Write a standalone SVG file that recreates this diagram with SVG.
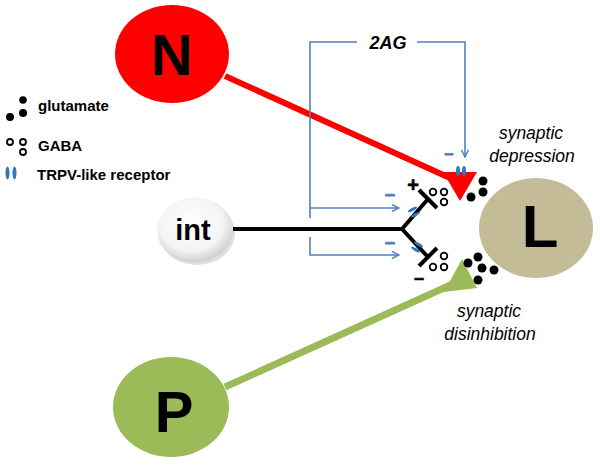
<svg xmlns="http://www.w3.org/2000/svg" width="600" height="465" viewBox="0 0 600 465">
<style>
.lbl{font-family:"Liberation Sans",Arial,sans-serif;font-weight:bold;fill:#000}
.leg{font-family:"Liberation Sans",Arial,sans-serif;font-weight:bold;font-size:15px;fill:#000}
.it{font-family:"Liberation Sans",Arial,sans-serif;font-style:italic;font-size:17.5px;fill:#000;text-anchor:middle}
.blue{fill:none;stroke:#4F81BD;stroke-width:1.6}
.glu{fill:#000}
.gaba{fill:#fff;stroke:#000;stroke-width:1.8}
.rec{fill:#2E78C2}
.bsign{font-family:"Liberation Sans",Arial,sans-serif;font-weight:bold;fill:#4F81BD;stroke:#4F81BD;stroke-width:0.9;text-anchor:middle}
.ksign{font-family:"Liberation Sans",Arial,sans-serif;font-weight:bold;fill:#000;stroke:#000;stroke-width:0.6;text-anchor:middle}
</style>
<defs>
<marker id="arr" viewBox="0 0 10 10" refX="9" refY="5" markerWidth="9" markerHeight="9" markerUnits="userSpaceOnUse" orient="auto">
<path d="M1,1 L9,5 L1,9" fill="none" stroke="#4F81BD" stroke-width="1.6"/>
</marker>
<radialGradient id="intg" cx="45%" cy="40%" r="60%">
<stop offset="0" stop-color="#ffffff"/>
<stop offset="0.7" stop-color="#f4f4f4"/>
<stop offset="1" stop-color="#cfcfcf"/>
</radialGradient>
<filter id="soft" x="-10%" y="-10%" width="120%" height="120%">
<feGaussianBlur stdDeviation="0.7"/>
</filter>
</defs>
<rect width="600" height="465" fill="#fff"/>

<g id="legend">
<circle class="glu" cx="23" cy="100" r="3.8"/>
<circle class="glu" cx="23" cy="113" r="4"/>
<circle class="glu" cx="10" cy="117" r="4"/>
<text class="leg" x="38" y="111">glutamate</text>
<circle class="gaba" cx="10" cy="142" r="3"/>
<circle class="gaba" cx="23" cy="142" r="3"/>
<circle class="gaba" cx="23" cy="152" r="3"/>
<text class="leg" x="38" y="151">GABA</text>
<ellipse class="rec" cx="7.5" cy="173" rx="2" ry="6.5"/>
<ellipse class="rec" cx="14.5" cy="173" rx="2" ry="6.5"/>
<text class="leg" x="37" y="180">TRPV-like receptor</text>
</g>

<g id="connectors">
<line x1="225" y1="76" x2="450" y2="178" stroke="#FF0000" stroke-width="6"/>
<polygon points="443,172 477,172 460,201" fill="#FF0000"/>
<line x1="225" y1="387" x2="455" y2="283" stroke="#9BBB59" stroke-width="7"/>
<polygon points="462,259 477,288 444,292" fill="#9BBB59"/>
<path d="M233,229 H402 L428,199 M402,229 L428,257" fill="none" stroke="#000" stroke-width="4" stroke-linejoin="miter"/>
<line x1="419" y1="190" x2="437" y2="208" stroke="#000" stroke-width="4"/>
<line x1="419" y1="266" x2="437" y2="248" stroke="#000" stroke-width="4"/>
<path class="blue" d="M310,218 V42 H357 M417,42 H465 V157" marker-end="url(#arr)"/>
<path class="blue" d="M310,208 H399" marker-end="url(#arr)"/>
<path class="blue" d="M310,237 V255 H399" marker-end="url(#arr)"/>
<text class="lbl" x="388" y="49" font-size="18" font-style="italic" text-anchor="middle">2AG</text>
</g>

<g id="synapse-top">
<ellipse class="rec" cx="458" cy="171" rx="2" ry="5"/>
<ellipse class="rec" cx="464" cy="171" rx="2" ry="5"/>
<circle class="glu" cx="483" cy="181" r="4.5"/>
<circle class="glu" cx="483" cy="192" r="4.5"/>
<circle class="glu" cx="471" cy="197" r="4.5"/>
<circle class="gaba" cx="433" cy="192" r="3.3"/>
<circle class="gaba" cx="444" cy="192" r="3.3"/>
<circle class="gaba" cx="444" cy="202" r="3.3"/>
<g transform="translate(414,212) rotate(-30)">
<ellipse class="rec" cx="0" cy="-3" rx="5" ry="1.5"/>
<ellipse class="rec" cx="0" cy="3" rx="5" ry="1.5"/>
</g>
<text class="ksign" x="413" y="192" font-size="20">+</text>
<text class="bsign" x="390" y="200" font-size="18">–</text>
<text class="bsign" x="449" y="159" font-size="16">–</text>
</g>

<g id="synapse-bottom">
<circle class="glu" cx="468" cy="263" r="4.5"/>
<circle class="glu" cx="478" cy="257" r="4.5"/>
<circle class="glu" cx="482" cy="268" r="4.5"/>
<circle class="glu" cx="494" cy="270" r="4.5"/>
<circle class="glu" cx="478" cy="280" r="4.5"/>
<circle class="gaba" cx="444" cy="256" r="3.3"/>
<circle class="gaba" cx="433" cy="267" r="3.3"/>
<circle class="gaba" cx="444" cy="267" r="3.3"/>
<g transform="translate(417,247) rotate(30)">
<ellipse class="rec" cx="0" cy="-3" rx="5" ry="1.5"/>
<ellipse class="rec" cx="0" cy="3" rx="5" ry="1.5"/>
</g>
<text class="bsign" x="390" y="248" font-size="18">–</text>
<text class="ksign" x="419" y="284" font-size="18">–</text>
</g>

<g id="node-N">
<ellipse cx="172" cy="54" rx="57" ry="49" fill="#FF0000" filter="url(#soft)"/>
<text class="lbl" x="172" y="75" font-size="58" text-anchor="middle">N</text>
</g>

<g id="node-int">
<ellipse cx="197" cy="233" rx="38" ry="32" fill="#000" opacity="0.12" filter="url(#soft)"/>
<ellipse cx="195" cy="230" rx="38" ry="32.5" fill="url(#intg)"/>
<text class="lbl" x="193" y="240" font-size="29" text-anchor="middle">int</text>
</g>

<g id="node-L">
<ellipse cx="536" cy="228" rx="57" ry="50" fill="#C4BC96"/>
<text class="lbl" x="540" y="247" font-size="60" text-anchor="middle">L</text>
</g>

<g id="node-P">
<ellipse cx="171" cy="407" rx="58" ry="50" fill="#9BBB59"/>
<text class="lbl" x="174" y="432" font-size="58" text-anchor="middle">P</text>
</g>

<g id="labels">
<text class="it" x="531" y="139">synaptic</text>
<text class="it" x="532" y="162">depression</text>
<text class="it" x="489" y="317">synaptic</text>
<text class="it" x="490" y="340">disinhibition</text>
</g>
</svg>
